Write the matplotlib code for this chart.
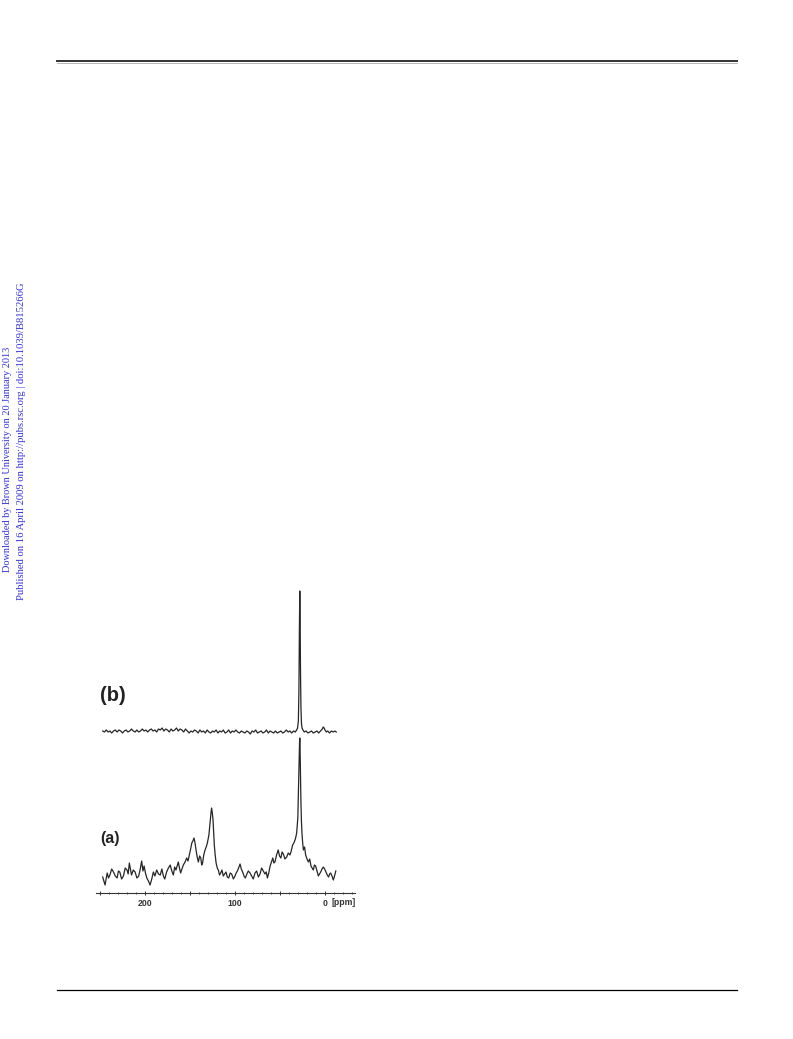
import matplotlib
matplotlib.use("Agg")
import matplotlib.pyplot as plt
from matplotlib.lines import Line2D

# ---------------- data ----------------
ppm_a = [247, 245.7, 244.4, 243.2, 242, 240.5, 239, 237, 235, 233, 231, 229.5, 228, 226,
         224, 222, 220, 218.7, 217.4, 216.2, 215, 213, 211, 209, 207, 205.3, 203.7, 202.3,
         201, 199.5, 198, 196.2, 194.4, 192.5, 190.7, 189, 187, 185, 183, 181.3, 179.6,
         178, 176, 174, 172, 170.2, 168.5, 167, 165.6, 164.3, 163, 161.7, 160.4, 159,
         157.4, 155.5, 153.7, 152.2, 150.7, 149.3, 148, 146.8, 145.6, 144.4, 143.3, 142,
         140.7, 139.3, 138, 137, 136, 134.7, 133.3, 132, 130.7, 129.8, 129, 128.2, 127.4,
         126.7, 126, 125.2, 124.4, 123.7, 123, 122, 121, 119.7, 118.5, 117.2, 115.9, 114.5,
         113, 111.5, 110, 108.5, 107, 105.3, 103.7, 101.8, 100, 98.7, 97.4, 96, 94.4, 93,
         91.5, 90, 88.5, 86.8, 85.2, 83.3, 81.5, 79.7, 77.8, 76, 74, 72.2, 70.4, 68.5,
         66.7, 65.3, 64, 62.5, 61, 59.5, 58, 56.8, 55.6, 53.8, 52, 50.5, 49, 47.7, 46.3,
         44.5, 42.6, 40.8, 39, 37.5, 36, 34.6, 33.3, 32.4, 31.5, 30.8, 30.2, 29.7, 29.3,
         28.9, 28.6, 28.3, 28.0, 27.7, 27.4, 27.0, 26.7, 26.2, 25.6, 24.8, 24, 22.7, 21.5,
         20, 18.5, 17, 15.6, 14.3, 13, 11.7, 10.4, 8.9, 7.4, 6.1, 4.8, 3.3, 1.9, 0.4, -1.1,
         -2.5, -4, -5.2, -6.3, -7.8, -9.2, -10.6, -12]
int_a = [16, 12, 8, 14, 20, 15, 18, 24, 21, 17, 15, 22, 21, 14,
         17, 25, 23, 19, 30, 24, 18, 23, 21, 15, 17, 24, 32, 22,
         27, 20, 15, 12, 8, 14, 21, 17, 23, 19, 18, 24, 17,
         14, 21, 25, 28, 22, 18, 26, 23, 27, 31, 25, 20, 24,
         28, 31, 35, 32, 38, 44, 50, 52, 55, 50, 43, 36,
         31, 37, 35, 28, 30, 38, 43, 46, 50, 54, 58, 65, 73,
         80, 85, 80, 73, 60, 48, 38, 30, 25, 23, 18, 20, 23,
         17, 19, 21, 16, 15, 20, 19, 14, 17, 20, 22, 25, 29, 24,
         21, 17, 15, 19, 22, 20, 17, 14, 20, 22, 16, 19, 25, 22,
         19, 21, 15, 20, 27, 31, 35, 30, 31, 38, 43, 37, 35, 41, 39,
         34, 36, 40, 38, 42, 48, 50, 53, 56, 60, 68, 75, 95, 110,
         130, 140, 150, 155, 145, 125, 105, 90, 72, 60, 50, 43, 46, 38,
         34, 31, 34, 27, 25, 23, 28, 27, 22, 17, 19, 21, 24, 26, 24, 21,
         18, 16, 19, 20, 17, 13, 17, 22]

ppm_b = [247, 245, 243, 241, 239, 237, 235, 233, 231, 229, 227, 225, 223, 221, 219,
         217, 215, 213, 211, 209, 207, 205, 203, 201, 199, 197, 195, 193, 191, 189,
         187, 185, 183, 181, 179, 177, 175, 173, 171, 169, 167, 165, 163, 161, 159,
         157, 155, 153, 151, 149, 147, 145, 143, 141, 139, 137, 135, 133, 131, 129,
         127, 125, 123, 121, 119, 117, 115, 113, 111, 109, 107, 105, 103, 101, 99,
         97, 95, 93, 91, 89, 87, 85, 83, 81, 79, 77, 75, 73, 71, 69, 67, 65, 63, 61,
         59, 57, 55, 53, 51, 49, 47, 45, 43, 41, 39, 37, 35, 33, 31.5, 30.5, 29.6,
         29.0, 28.5, 28.0, 27.6, 27.2, 26.7, 26.2, 25.5, 24.5, 23, 21, 19, 17, 15, 13,
         11, 9, 7, 5, 3, 2, 1, 0, -1.5, -3, -5, -7, -9, -11, -12.5]
int_b = [162, 161, 163, 161, 162, 160, 162, 163, 161, 163, 162, 160, 162, 163, 161,
         162, 164, 162, 161, 163, 161, 162, 164, 162, 163, 161, 163, 164, 162, 163,
         161, 164, 163, 165, 162, 164, 163, 161, 164, 162, 163, 165, 162, 164, 163,
         161, 164, 162, 160, 162, 161, 163, 162, 160, 163, 161, 162, 160, 163, 161,
         160, 162, 161, 163, 160, 162, 161, 163, 160, 161, 163, 160, 162, 161, 163,
         161, 160, 162, 161, 160, 162, 161, 159, 162, 161, 163, 160, 161, 162, 160,
         161, 163, 160, 162, 161, 160, 162, 160, 161, 162, 160, 161, 163, 161, 162,
         160, 162, 161, 163, 165, 172, 200, 260, 302, 270, 220, 185, 170, 165, 163,
         161, 162, 160, 161, 162, 160, 161, 162, 160, 162, 164, 166, 165, 163, 161,
         162, 160, 162, 161, 162, 161]

major_ticks = [250, 200, 150, 100, 50, 0]
major_labels = ["", "200", "", "100", "", "0"]
minor_ticks = [240, 230, 220, 210, 190, 180, 170, 160, 140, 130, 120, 110, 90, 80,
               70, 60, 40, 30, 20, 10, -10, -20, -30]

# ---------------- figure ----------------
W, H = 793, 1039
fig = plt.figure(figsize=(W / 100, H / 100), dpi=100)

def fx(px):
    return px / W

def fy(py):
    return 1 - py / H

# header / footer rules
fig.add_artist(Line2D([fx(57), fx(737)], [fy(61), fy(61)], color="#333333", lw=1.4))
fig.add_artist(Line2D([fx(57), fx(737)], [fy(62.6), fy(62.6)], color="#aaaaaa", lw=0.6))
fig.add_artist(Line2D([fx(57), fx(737)], [fy(990), fy(990)], color="black", lw=0.9))

# side watermark text
blue = "#3030e0"
fig.text(fx(8), fy(459), "Downloaded by Brown University on 20 January 2013",
         rotation=90, ha="center", va="center", color=blue,
         fontsize=7.4, family="Liberation Serif")
fig.text(fx(22), fy(441),
         "Published on 16 April 2009 on http://pubs.rsc.org | doi:10.1039/B815266G",
         rotation=90, ha="center", va="center", color=blue,
         fontsize=7.7, family="Liberation Serif")

# spectrum axes
ax_left, ax_right = 96, 355
ax_bottom, ax_top = 893, 585
ax = fig.add_axes([fx(ax_left), fy(ax_bottom), (ax_right - ax_left) / W,
                   (ax_bottom - ax_top) / H])
ax.set_xlim((325 - ax_left) / 0.9, (325 - ax_right) / 0.9)
ax.set_ylim(0, ax_bottom - ax_top)

ax.plot(ppm_a, int_a, color="#262626", lw=0.9)
ax.plot(ppm_b, int_b, color="#262626", lw=0.9)

for s in ["left", "right", "top"]:
    ax.spines[s].set_visible(False)
ax.spines["bottom"].set_linewidth(0.8)
ax.spines["bottom"].set_color("#333333")
ax.set_yticks([])
ax.set_xticks(major_ticks)
ax.set_xticklabels(major_labels, fontsize=6.3, fontweight="bold",
                   family="Liberation Sans", color="#333333")
ax.set_xticks(minor_ticks, minor=True)
ax.tick_params(axis="x", which="major", direction="inout", length=3.5, width=0.7,
               pad=2.5, colors="#333333")
ax.tick_params(axis="x", which="minor", direction="inout", length=2, width=0.6,
               colors="#333333")
ax.patch.set_alpha(0)

# [ppm] label
fig.text(fx(332), fy(902.5), "[ppm]", ha="left", va="center", fontsize=6.3,
         fontweight="bold", family="Liberation Sans", color="#333333")

# panel labels
fig.text(fx(100), fy(695.5), "(b)", ha="left", va="center", fontsize=14.5,
         fontweight="bold", family="Liberation Sans", color="#222222")
fig.text(fx(100), fy(838.5), "(a)", ha="left", va="center", fontsize=11.5,
         fontweight="bold", family="Liberation Sans", color="#222222")

fig.savefig("out.png", dpi=100)
